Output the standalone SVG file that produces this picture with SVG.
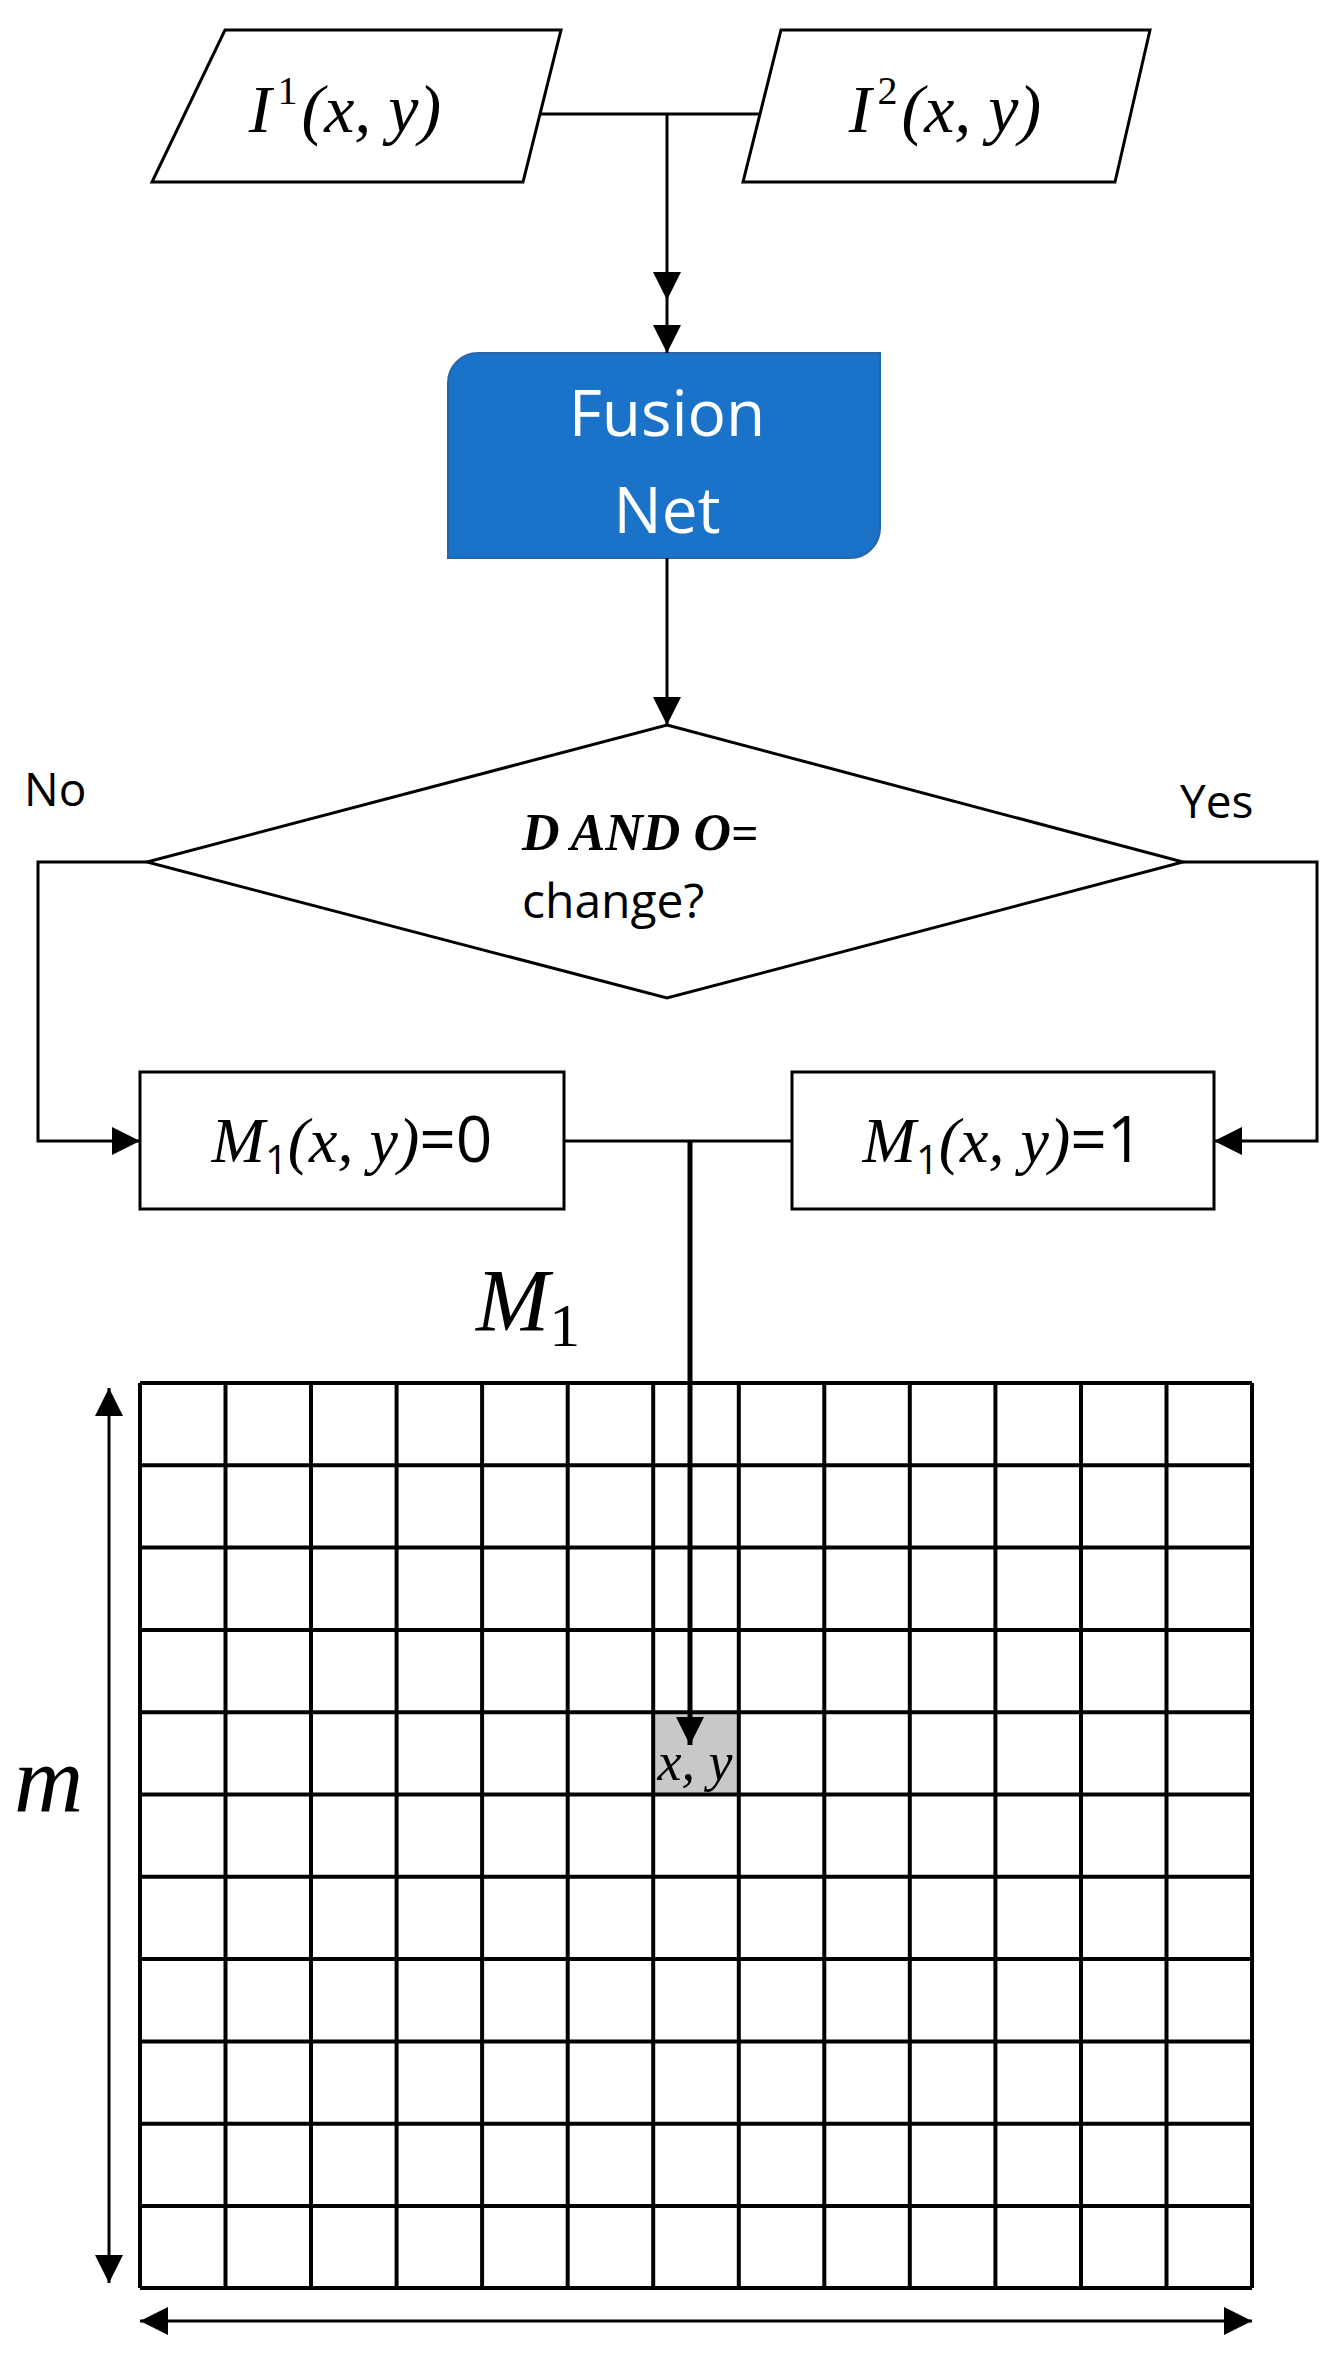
<svg xmlns="http://www.w3.org/2000/svg" width="1335" height="2355" viewBox="0 0 1335 2355">
<style>
.s{fill:#fff;stroke:#000;stroke-width:3}
.c{fill:none;stroke:#000;stroke-width:3}
.m{font-family:"Liberation Serif",serif;font-style:italic;fill:#000}
.u{font-family:"Open Sans","Liberation Sans",sans-serif;fill:#000}
.g{stroke:#000;stroke-width:4}
</style>
<defs>
<marker id="b" viewBox="0 0 10 10" refX="10" refY="5" markerWidth="28" markerHeight="28" markerUnits="userSpaceOnUse" orient="auto-start-reverse"><path d="M0,0L10,5L0,10z" fill="#000"/></marker>
</defs>
<g id="in1"><polygon class="s" points="225,30 561,30 523,182 152,182"/><text class="m" x="345" y="132" font-size="68" text-anchor="middle">I<tspan font-size="40" dy="-28" dx="6" font-style="normal">1</tspan><tspan dy="28" dx="4">(x, y)</tspan></text></g>
<g id="in2"><polygon class="s" points="781,30 1150,30 1115,182 743,182"/><text class="m" x="945" y="132" font-size="68" text-anchor="middle">I<tspan font-size="40" dy="-28" dx="6" font-style="normal">2</tspan><tspan dy="28" dx="4">(x, y)</tspan></text></g>
<g id="fusion"><path d="M478,353H880V528A30,30 0 0 1 850,558H448V383A30,30 0 0 1 478,353Z" fill="#1a73c8" stroke="#2a64a8" stroke-width="2"/><text class="u" x="667" y="436" font-size="64" text-anchor="middle" style="fill:#fff">Fusion</text><text class="u" x="667" y="533" font-size="64" text-anchor="middle" style="fill:#fff">Net</text></g>
<g id="decision"><polygon class="s" points="667,725 1183,862 667,998 147,862"/><text x="522" y="850" font-size="52"><tspan class="m" font-weight="bold">D AND O</tspan><tspan class="u" font-size="48">=</tspan></text><text class="u" x="522" y="918" font-size="48">change?</text></g>
<g id="lab"><text class="u" x="24" y="806" font-size="46">No</text><text class="u" x="1180" y="818" font-size="46">Yes</text></g>
<g id="m0"><rect class="s" x="140" y="1072" width="424" height="137"/><text x="352" y="1162" font-size="64" text-anchor="middle"><tspan class="m">M</tspan><tspan class="u" font-size="40" dy="12">1</tspan><tspan class="m" dy="-12">(x, y)</tspan><tspan class="u">=0</tspan></text></g>
<g id="m1"><rect class="s" x="792" y="1072" width="422" height="137"/><text x="1003" y="1162" font-size="64" text-anchor="middle"><tspan class="m">M</tspan><tspan class="u" font-size="40" dy="12">1</tspan><tspan class="m" dy="-12">(x, y)</tspan><tspan class="u">=1</tspan></text></g>
<g id="grid">
<rect x="653" y="1712" width="85.5" height="82.3" fill="#c8c8c8"/>
<path class="g" fill="none" d="M140,1383H1252M140,1465.3H1252M140,1547.6H1252M140,1629.9H1252M140,1712.2H1252M140,1794.5H1252M140,1876.8H1252M140,1959.1H1252M140,2041.4H1252M140,2123.7H1252M140,2206H1252M140,2288H1252M140,1383V2288M225.5,1383V2288M311,1383V2288M396.6,1383V2288M482.1,1383V2288M567.7,1383V2288M653.2,1383V2288M738.8,1383V2288M824.3,1383V2288M909.8,1383V2288M995.4,1383V2288M1081,1383V2288M1166.5,1383V2288M1252,1383V2288"/>
<text class="m" x="695" y="1780" font-size="54" text-anchor="middle">x, y</text>
</g>
<g id="connectors">
<path class="c" d="M540,114H760M667,114V300" marker-end="url(#b)"/>
<path class="c" d="M667,300V353" marker-end="url(#b)"/>
<path class="c" d="M667,558V725" marker-end="url(#b)"/>
<path class="c" d="M147,862H38V1141H140" marker-end="url(#b)"/>
<path class="c" d="M1183,862H1317V1141H1214" marker-end="url(#b)"/>
<path class="c" d="M564,1141H792"/>
<path d="M690,1141V1745" fill="none" stroke="#000" stroke-width="5" marker-end="url(#b)"/>
</g>
<g id="labels">
<text class="m" x="476" y="1330" font-size="88">M<tspan font-style="normal" font-size="62" dy="16">1</tspan></text>
<text class="m" x="14" y="1812" font-size="96">m</text>
<path class="c" d="M109,1388V2283" marker-start="url(#b)" marker-end="url(#b)"/>
<path class="c" d="M140,2321H1252" marker-start="url(#b)" marker-end="url(#b)"/>
</g>
</svg>
